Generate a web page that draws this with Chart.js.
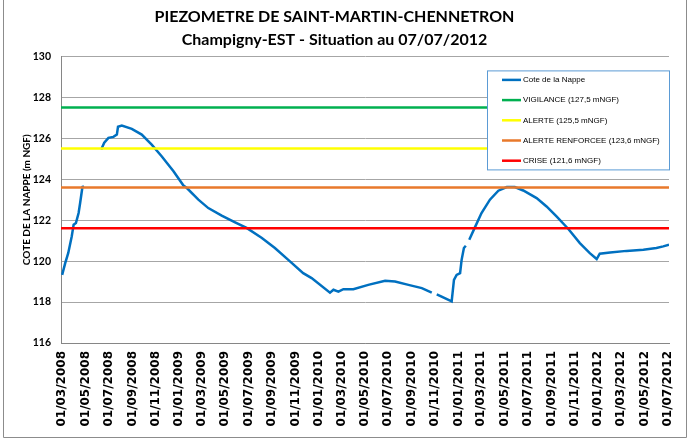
<!DOCTYPE html>
<html>
<head>
<meta charset="utf-8">
<script src="https://cdn.jsdelivr.net/npm/chart.js@4.4.1/dist/chart.umd.min.js"></script>
<style>
  html, body { margin: 0; padding: 0; background: #fff; }
  #wrap { width: 691px; height: 441px; position: relative; }
</style>
</head>
<body>
<div id="wrap"><canvas id="piezoChart"></canvas></div>
<script>
// dates de mesure (null dans levels = lacune)
const dates = [
  '01/03/2008','09/03/2008','17/03/2008','26/03/2008','31/03/2008','06/04/2008','13/04/2008','17/04/2008','23/04/2008','27/04/2008',
  '15/05/2008',
  '11/06/2008','19/06/2008','30/06/2008','13/07/2008','22/07/2008','25/07/2008','04/08/2008','30/08/2008','25/09/2008','21/10/2008',
  '16/11/2008','17/12/2008','12/01/2009','21/01/2009','20/02/2009','18/03/2009','22/04/2009','27/05/2009','26/06/2009','05/08/2009',
  '08/09/2009','13/10/2009','21/11/2009','13/12/2009','30/01/2010','08/02/2010','21/02/2010','06/03/2010','01/04/2010','10/05/2010',
  '23/06/2010','19/07/2010','23/08/2010','27/09/2010','23/10/2010',
  '29/10/2010',
  '05/11/2010','26/11/2010','14/12/2010','20/12/2010','27/12/2010','05/01/2011','09/01/2011','15/01/2011','20/01/2011',
  '24/01/2011',
  '29/01/2011','13/02/2011','02/03/2011','24/03/2011','15/04/2011','07/05/2011','28/05/2011','19/06/2011','24/07/2011','19/08/2011',
  '14/09/2011','15/10/2011','14/11/2011','10/12/2011','28/12/2011','05/01/2012','01/02/2012','15/03/2012','28/04/2012','01/06/2012',
  '19/06/2012','04/07/2012'
];
const levels = [
  119.33,119.90,120.40,121.20,121.78,121.86,122.35,122.84,123.62,123.65,
  null,
  125.45,125.78,126.02,126.07,126.18,126.56,126.62,126.46,126.18,125.69,
  125.12,124.39,123.69,123.57,123.00,122.59,122.22,121.89,121.62,121.13,
  120.64,120.06,119.41,119.17,118.46,118.60,118.51,118.63,118.63,118.84,
  119.04,119.00,118.84,118.68,118.46,
  null,
  118.38,118.19,118.03,119.08,119.33,119.41,120.06,120.64,120.75,
  null,
  121.04,121.66,122.35,123.00,123.44,123.62,123.62,123.45,123.08,122.67,
  122.18,121.57,120.88,120.39,120.10,120.36,120.42,120.50,120.55,120.64,
  120.72,120.80
];

const thresholdNames = ['VIGILANCE (127,5 mNGF)', 'ALERTE (125,5 mNGF)', 'ALERTE RENFORCEE (123,6 mNGF)', 'CRISE (121,6 mNGF)'];
const thresholdValues = [127.5, 125.5, 123.6, 121.6];
const thresholdColors = ['#00b050', '#ffff00', '#e8792b', '#ff0000'];

const tickLabels = [
  '01/03/2008','01/05/2008','01/07/2008','01/09/2008','01/11/2008','01/01/2009','01/03/2009','01/05/2009','01/07/2009',
  '01/09/2009','01/11/2009','01/01/2010','01/03/2010','01/05/2010','01/07/2010','01/09/2010','01/11/2010','01/01/2011',
  '01/03/2011','01/05/2011','01/07/2011','01/09/2011','01/11/2011','01/01/2012','01/03/2012','01/05/2012','01/07/2012'
];

// jours depuis le 01/03/2008
function dayIndex(s) {
  const p = s.split('/').map(Number);
  return (Date.UTC(p[2], p[1] - 1, p[0]) - Date.UTC(2008, 2, 1)) / 86400000;
}

const xMin = -3;
const xMax = dayIndex('01/07/2012') + 3;

const datasets = [{
  label: 'Cote de la Nappe',
  data: dates.map((d, i) => ({ x: dayIndex(d), y: levels[i] })),
  borderColor: '#0070c0',
  borderWidth: 2.5,
  pointRadius: 0,
  tension: 0,
  spanGaps: false,
  order: 10
}];
thresholdNames.forEach((name, i) => {
  datasets.push({
    label: name,
    data: [{ x: xMin, y: thresholdValues[i] }, { x: xMax, y: thresholdValues[i] }],
    borderColor: thresholdColors[i],
    borderWidth: 2.5,
    pointRadius: 0,
    order: i
  });
});

// legende dans la zone de tracé, comme sous Excel
const boxLegend = {
  id: 'boxLegend',
  afterDraw(chart) {
    const ctx = chart.ctx;
    const a = chart.chartArea;
    const x = a.right - 182, y = a.top + 14, w = 182, h = 99;
    ctx.save();
    ctx.fillStyle = '#ffffff';
    ctx.fillRect(x, y, w, h);
    ctx.strokeStyle = '#5b9bd5';
    ctx.lineWidth = 1;
    ctx.strokeRect(x + 0.5, y + 0.5, w, h);
    ctx.font = '8px "Liberation Sans", Arial, sans-serif';
    ctx.textBaseline = 'middle';
    chart.data.datasets.forEach((ds, i) => {
      const ry = y + 9.5 + i * 20.2;
      ctx.strokeStyle = ds.borderColor;
      ctx.lineWidth = 2.5;
      ctx.beginPath();
      ctx.moveTo(x + 15, ry);
      ctx.lineTo(x + 34, ry);
      ctx.stroke();
      ctx.fillStyle = '#000';
      ctx.fillText(ds.label, x + 36, ry);
    });
    ctx.restore();
  }
};

// cadre du graphique
const frame = {
  id: 'frame',
  afterDraw(chart) {
    const ctx = chart.ctx;
    ctx.save();
    ctx.strokeStyle = '#8c8c8c';
    ctx.lineWidth = 1;
    ctx.beginPath();
    ctx.moveTo(3.5, 0);
    ctx.lineTo(3.5, 437.5);
    ctx.lineTo(686.5, 437.5);
    ctx.lineTo(686.5, 0);
    ctx.stroke();
    ctx.restore();
  }
};

const ctx = document.getElementById('piezoChart').getContext('2d');
new Chart(ctx, {
  type: 'line',
  data: { datasets: datasets },
  options: {
    responsive: true,
    maintainAspectRatio: false,
    animation: false,
    layout: { padding: { left: 0, right: 22, top: 0, bottom: 0 } },
    plugins: {
      legend: { display: false },
      tooltip: { enabled: false },
      title: {
        display: true,
        text: ['PIEZOMETRE DE SAINT-MARTIN-CHENNETRON', 'Champigny-EST - Situation au 07/07/2012'],
        color: '#000',
        font: { family: 'Lato, sans-serif', size: 16, weight: 'bold', lineHeight: 1.45 },
        padding: { top: 5, bottom: 5 }
      }
    },
    scales: {
      x: {
        type: 'linear',
        min: xMin,
        max: xMax,
        afterBuildTicks: axis => {
          axis.ticks = tickLabels.map(t => ({ value: dayIndex(t) }));
        },
        afterFit: axis => { axis.height = 98; },
        grid: { display: false, drawTicks: false },
        border: { display: true, color: '#868686', width: 1 },
        ticks: {
          autoSkip: false,
          maxRotation: 90,
          minRotation: 90,
          padding: 8,
          color: '#000',
          font: { family: '"DejaVu Sans", sans-serif', size: 12, weight: 'bold' },
          callback: (v, i) => tickLabels[i]
        }
      },
      y: {
        min: 116,
        max: 130,
        afterFit: axis => { axis.width = 61; },
        grid: { color: '#a6a6a6', lineWidth: 1, drawTicks: false },
        border: { display: true, color: '#868686', width: 1 },
        title: {
          display: true,
          text: 'COTE DE LA NAPPE (m NGF)',
          color: '#000',
          font: { family: 'Lato, sans-serif', size: 10, weight: 'bold' },
          padding: { top: 21, bottom: 0 }
        },
        ticks: {
          stepSize: 2,
          padding: 10,
          color: '#000',
          font: { family: 'Lato, sans-serif', size: 10.5, weight: 'bold' }
        }
      }
    }
  },
  plugins: [boxLegend, frame]
});
</script>
</body>
</html>
